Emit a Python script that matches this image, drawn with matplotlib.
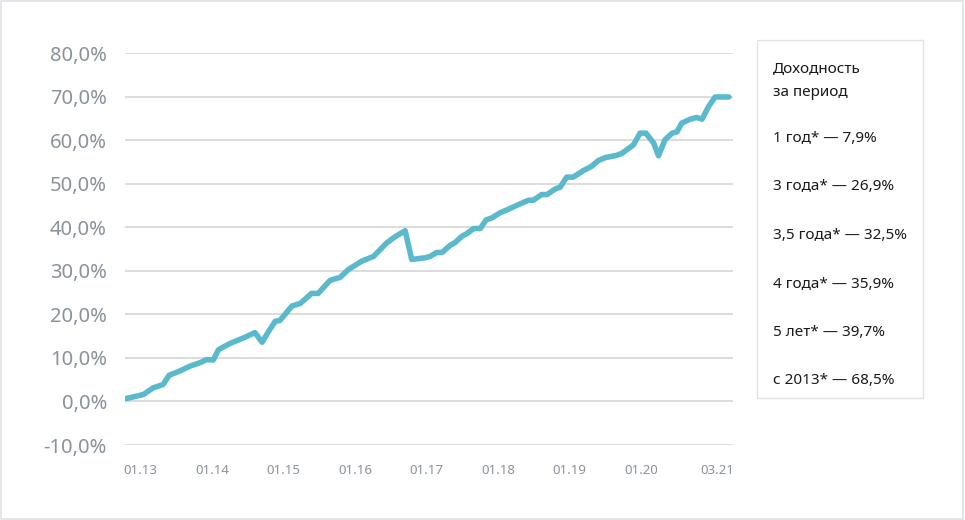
import matplotlib
matplotlib.use("Agg")
import matplotlib.pyplot as plt
from matplotlib.patches import Rectangle

# months since 01.2013 and cumulative return, %
months = [0.0, 3.1, 4.7, 6.4, 7.4, 9.2, 10.9, 12.6, 13.7, 14.8, 15.7, 17.6, 19.9, 21.8,
          23.0, 24.1, 25.2, 26.0, 28.0, 29.4, 31.3, 32.4, 34.4, 36.1, 37.5, 39.7, 41.7,
          43.9, 45.3, 47.0, 48.1, 50.4, 51.2, 52.3, 53.2, 54.5, 55.4, 56.5, 57.3, 58.5,
          59.6, 60.6, 61.5, 62.9, 64.1, 65.7, 67.7, 68.5, 69.9, 70.8, 72.2, 73.0, 74.1,
          75.2, 76.9, 78.3, 79.4, 80.6, 82.5, 83.4, 85.3, 86.4, 87.4, 88.7, 89.5, 90.6,
          91.8, 92.6, 93.4, 94.8, 95.9, 96.8, 97.9, 99.0, 101.3]
returns = [0.6, 1.6, 3.1, 3.9, 6.0, 7.0, 8.1, 8.9, 9.6, 9.5, 11.9, 13.3, 14.6, 15.8,
           13.6, 16.1, 18.4, 18.6, 21.9, 22.5, 24.8, 24.8, 27.8, 28.5, 30.3, 32.2, 33.3,
           36.4, 37.8, 39.2, 32.6, 33.0, 33.3, 34.2, 34.2, 35.8, 36.5, 37.9, 38.5, 39.7,
           39.7, 41.7, 42.1, 43.3, 44.0, 45.0, 46.2, 46.2, 47.5, 47.5, 48.8, 49.2, 51.5,
           51.5, 53.0, 54.0, 55.3, 56.0, 56.5, 57.0, 58.9, 61.6, 61.6, 59.3, 56.4, 60.1,
           61.6, 61.9, 63.9, 64.8, 65.2, 64.8, 67.7, 69.9, 69.9]

x_labels = ["01.13", "01.14", "01.15", "01.16", "01.17", "01.18", "01.19", "01.20", "03.21"]
y_ticks = [-10, 0, 10, 20, 30, 40, 50, 60, 70, 80]

legend_title = ["Доходность", "за период"]
legend_rows = ["1 год* — 7,9%", "3 года* — 26,9%", "3,5 года* — 32,5%",
               "4 года* — 35,9%", "5 лет* — 39,7%", "с 2013* — 68,5%"]

plt.rcParams["font.family"] = ["Noto Sans", "DejaVu Sans"]

fig = plt.figure(figsize=(9.65, 5.2), dpi=100)
fig.patches.append(Rectangle((0.001, 0.001), 0.997, 0.997, transform=fig.transFigure,
                             fill=False, edgecolor="#dde1e6", linewidth=1.2))

ax = fig.add_axes([125 / 965, 75 / 520, 608 / 965, 392 / 520])
ax.plot(months, returns, color="#5bb9cd", linewidth=4.0,
        solid_capstyle="round", solid_joinstyle="round", zorder=3)

ax.set_xlim(0, 102)
ax.set_ylim(-10, 80)
ax.set_yticks(y_ticks)
ax.set_yticklabels([f"{v:.1f}%".replace(".", ",") for v in y_ticks])
ax.tick_params(axis="y", length=0, pad=13, labelsize=14.5, labelcolor="#8a929b")

tick_pos = [2.6 + 12 * i for i in range(len(x_labels))]
tick_pos[-1] = 99.4
ax.set_xticks(tick_pos)
ax.set_xticklabels(x_labels)
ax.tick_params(axis="x", length=0, pad=14, labelsize=9.5, labelcolor="#8a929b")

ax.grid(axis="y", color="#dcdcdc", linewidth=1.4)
ax.set_axisbelow(True)
for s in ax.spines.values():
    s.set_visible(False)

# legend box
fig.patches.append(Rectangle((757 / 965, 1 - 398 / 520), 166 / 965, 358 / 520,
                             transform=fig.transFigure, fill=False,
                             edgecolor="#e0e3e6", linewidth=1.0))
tx = 773 / 965
for txt, ypx in zip(legend_title, [69, 93]):
    fig.text(tx, 1 - ypx / 520, txt, fontsize=11, color="#1a1a1a", va="center")
for txt, ypx in zip(legend_rows, [138, 187, 236, 285, 333, 380]):
    fig.text(tx, 1 - ypx / 520, txt, fontsize=11, color="#1a1a1a", va="center")

fig.savefig("out.png", dpi=100)
